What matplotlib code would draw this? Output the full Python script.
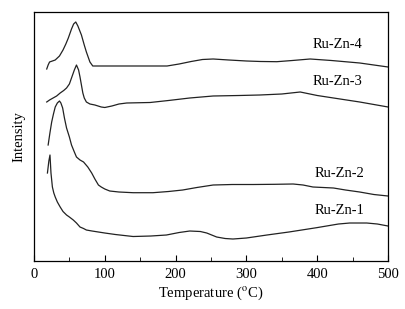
import matplotlib
matplotlib.use("Agg")
import matplotlib.pyplot as plt
from matplotlib.ticker import MultipleLocator

plt.rcParams['font.family'] = ['Liberation Serif', 'DejaVu Serif']
plt.rcParams['mathtext.fontset'] = 'stix'

# TPD-like profiles, intensity in arbitrary units
t4 = [18, 20, 22, 26, 30, 36, 41, 45, 48.5, 53, 56, 59, 62, 67, 71, 74, 79, 83, 88, 100, 130, 160, 188, 205, 222, 238, 253, 275, 300, 320, 343, 365, 390, 420, 460, 500]
i4 = [192, 196, 199, 200, 201, 205, 211, 217, 223, 232, 237, 239, 235, 226, 216, 209, 199, 195, 195, 195, 195, 195, 195, 197, 199.5, 201.5, 202, 201, 200, 199.5, 199.3, 200.5, 202, 200.5, 198, 194]

t3 = [18, 22, 27, 32, 37, 42, 46, 50, 53, 57, 60, 63, 65, 67, 69, 71, 74, 79, 86, 95, 100, 110, 120, 131, 164, 190, 220, 253, 290, 319, 350, 376, 400, 423, 460, 500]
i3 = [159, 161, 163, 165, 168, 170.5, 173, 177, 183, 191, 196, 191, 184, 176, 168, 163, 159, 157, 156, 154, 153.5, 155, 157, 158, 158.5, 160.5, 163, 165, 165.5, 166, 167, 169, 165.5, 163, 159, 154]

t2 = [20, 22.5, 25, 27.5, 30, 33, 36, 38, 40.5, 43, 46, 50, 53, 57, 60, 65, 70, 76, 81.5, 86, 91, 95, 100, 107, 120, 140, 168, 190, 210, 230, 253, 280, 310, 340, 366, 380, 394, 423, 440, 460, 480, 500]
i2 = [116, 128, 139, 147, 154, 158, 160, 158, 153, 143, 133, 124, 116, 109, 104, 101, 99, 94, 88, 82, 76, 74, 72, 70, 69, 68.3, 68.3, 69.5, 71, 73.5, 76, 76.5, 76.5, 76.7, 77, 76, 74, 73, 71, 69, 66.5, 65]

t1 = [19, 21, 22.6, 24, 26, 28, 30, 33, 37, 41, 46, 50, 55.5, 60, 65, 70, 74, 82, 91, 100, 115, 140, 165, 187, 205, 220, 235, 244, 251, 258, 270, 281, 300, 329, 360, 399, 430, 446, 470, 485, 500]
i1 = [88, 100, 106, 88, 74, 68, 64, 59, 54, 49.5, 46, 44, 41, 38, 34, 32.5, 31, 30, 29, 28, 26.5, 24.5, 25, 26, 28.5, 30, 29.5, 28, 26, 24, 22.5, 22, 23, 26, 29, 33.3, 37, 38, 38, 37, 35]

names = ['Ru-Zn-4', 'Ru-Zn-3', 'Ru-Zn-2', 'Ru-Zn-1']
label_x = [394, 394, 396, 396]
label_y = [216, 179, 88, 51]

fig = plt.figure(figsize=(4.06, 3.09), dpi=100)
ax = fig.add_axes([0.0837, 0.1553, 0.872, 0.8059])

for t, i in [(t4, i4), (t3, i3), (t2, i2), (t1, i1)]:
    ax.plot(t, i, color='#222222', lw=0.9)

for name, x, y in zip(names, label_x, label_y):
    ax.text(x, y, name, fontsize=10.5, va='center', ha='left')

ax.set_xlim(0, 500)
ax.set_ylim(0, 249)
ax.xaxis.set_major_locator(MultipleLocator(100))
ax.xaxis.set_minor_locator(MultipleLocator(50))
ax.tick_params(axis='x', which='both', direction='in', top=False, labelsize=10.5, pad=5)
ax.tick_params(axis='x', which='major', length=4)
ax.tick_params(axis='x', which='minor', length=3)
ax.set_yticks([])
ax.set_xlabel('Temperature ($^{\\mathrm{o}}$C)', fontsize=10.5, labelpad=3)
ax.set_ylabel('Intensity', fontsize=10.5, labelpad=6)
for s in ax.spines.values():
    s.set_linewidth(0.9)

fig.savefig('out.png', dpi=100)
